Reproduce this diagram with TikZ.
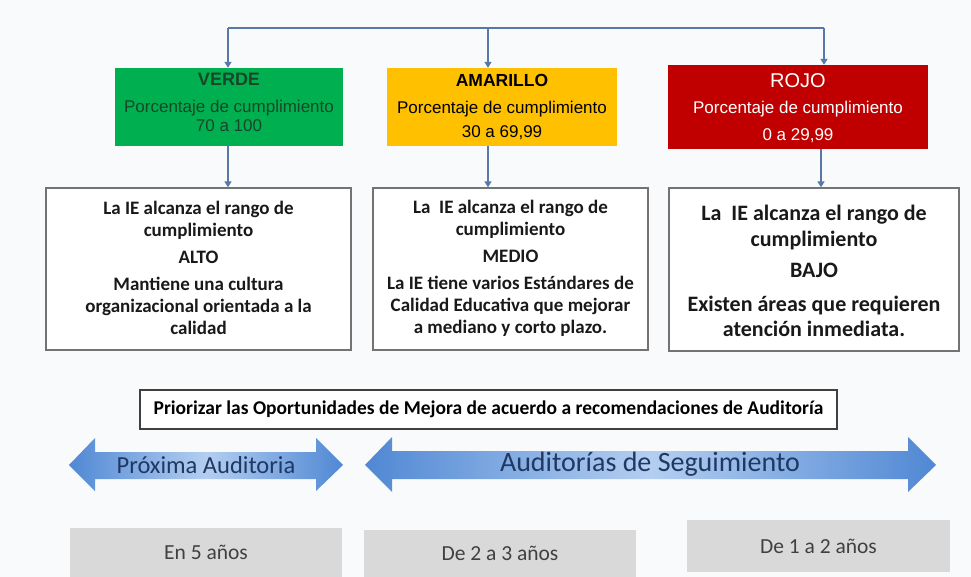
\documentclass[tikz,border=0pt]{standalone}
\usepackage{fontspec}
\setmainfont{Carlito}
\newfontfamily\arialf{Liberation Sans}
\usetikzlibrary{arrows.meta}
\definecolor{cgreen}{RGB}{0,176,80}
\definecolor{cyellow}{RGB}{255,192,0}
\definecolor{cred}{RGB}{192,0,0}
\definecolor{connc}{RGB}{88,120,168}
\definecolor{arrdark}{RGB}{80,136,212}
\definecolor{arrlight}{RGB}{180,206,240}
\definecolor{navy}{RGB}{31,56,100}
\definecolor{greybox}{RGB}{217,217,217}
\definecolor{bgc}{RGB}{249,250,251}
\definecolor{gtext}{RGB}{25,70,40}
\begin{document}
\begin{tikzpicture}[x=1pt,y=-1pt,
  conn/.style={draw=connc, line width=2pt},
  connarrow/.style={conn, -{Triangle[length=6pt,width=7pt]}},
  topbox/.style={rectangle, inner sep=0pt, draw=none},
  toptext/.style={align=center, inner sep=0pt, font=\arialf\fontsize{17}{18.5}\selectfont},
  wbox/.style={rectangle, draw=black!55, line width=1.3pt, fill=white, inner sep=0pt},
  wtext/.style={align=center, inner sep=0pt, text=black!90, font=\bfseries\fontsize{19}{22}\selectfont},
  gbox/.style={rectangle, fill=greybox, inner sep=0pt},
  gtextst/.style={text=black!75, font=\fontsize{21.5}{24}\selectfont},
  arrshade/.style={left color=arrdark, right color=arrdark, middle color=arrlight, draw=none},
  arrlabel/.style={text=navy, inner sep=0pt}
]
\useasboundingbox (0,0) rectangle (971,577);
\fill[bgc] (0,0) rectangle (971,577);

% top coloured boxes
\node[topbox, fill=cgreen, minimum width=228, minimum height=78] (green) at (229,107) {};
\node[topbox, fill=cyellow, minimum width=230, minimum height=78] (yellow) at (502,107) {};
\node[topbox, fill=cred, minimum width=260, minimum height=84] (red) at (798,107) {};

\node[toptext, text=gtext] (greenT) at (229,102) {{\bfseries\fontsize{18}{18}\selectfont VERDE}\\[9pt]Porcentaje de cumplimiento\\70 a 100};
\node[toptext, text=black] (yellowT) at (502,107) {{\bfseries\fontsize{17.5}{18}\selectfont AMARILLO}\\[8pt]Porcentaje de cumplimiento\\[6pt]30 a 69,99};
\node[toptext, text=white] (redT) at (798,108) {{\fontsize{20}{20}\selectfont ROJO}\\[8pt]Porcentaje de cumplimiento\\[8pt]0 a 29,99};

% connectors from top bar
\coordinate (jL) at (228,28);
\coordinate (jM) at (488,28);
\coordinate (jR) at (824,28);
\draw[conn] (jL) -- (jR);
\draw[connarrow] (jL) -- (jL |- green.north);
\draw[connarrow] (jM) -- (jM |- yellow.north);
\draw[connarrow] (jR) -- (jR |- red.north);

% white boxes
\node[wbox, minimum width=305, minimum height=162] (b1) at (198.5,269) {};
\node[wbox, minimum width=275, minimum height=162] (b2) at (510.5,269) {};
\node[wbox, minimum width=290, minimum height=163] (b3) at (814,269.5) {};

\node[wtext] (t1) at (198.5,268) {La IE alcanza el rango de\\cumplimiento\\[5pt]ALTO\\[5pt]Mantiene una cultura\\organizacional orientada a la\\calidad};
\node[wtext] (t2) at (510.5,268) {La\ \ IE alcanza el rango de\\cumplimiento\\[5pt]MEDIO\\[5pt]La IE tiene varios Estándares de\\Calidad Educativa que mejorar\\a mediano y corto plazo.};
\node[wtext, font=\bfseries\fontsize{22}{25.5}\selectfont] (t3) at (814,271) {La\ \ IE alcanza el rango de\\cumplimiento\\[6pt]BAJO\\[8pt]Existen áreas que requieren\\atención inmediata.};

% connectors from coloured boxes to white boxes
\coordinate (kR) at (821,0);
\draw[connarrow] (green.south -| jL) -- (b1.north -| jL);
\draw[connarrow] (yellow.south -| jM) -- (b2.north -| jM);
\draw[connarrow] (red.south -| kR) -- (b3.north -| kR);

% priorizar box
\node[rectangle, draw=black!75, line width=2pt, fill=white, minimum width=697, minimum height=39, inner sep=0pt,
  font=\bfseries\fontsize{19.5}{21}\selectfont] (prio) at (488.5,409.5) {Priorizar las Oportunidades de Mejora de acuerdo a recomendaciones de Auditoría};

% double arrows
\path[arrshade] (69,465) -- (95,438) -- (95,452) -- (316,452) -- (316,438) -- (343,465) -- (316,491) -- (316,479) -- (95,479) -- (95,491) -- cycle;
\path[arrshade] (365,465) -- (392,437) -- (392,451) -- (908,451) -- (908,437) -- (936,465) -- (908,492) -- (908,479) -- (392,479) -- (392,492) -- cycle;
\node[arrlabel, font=\fontsize{24.5}{26}\selectfont] (lab1) at (206,465) {Próxima Auditoria};
\node[arrlabel, font=\fontsize{28}{30}\selectfont] (lab2) at (650,464) {Auditorías de Seguimiento};

% grey boxes
\node[gbox, gtextst, minimum width=272, minimum height=49] (g1) at (206,552.5) {En 5 años};
\node[gbox, gtextst, minimum width=272, minimum height=47] (g2) at (500,553.5) {De 2 a 3 años};
\node[gbox, gtextst, minimum width=263, minimum height=52] (g3) at (818.5,546) {De 1 a 2 años};
\end{tikzpicture}
\end{document}
